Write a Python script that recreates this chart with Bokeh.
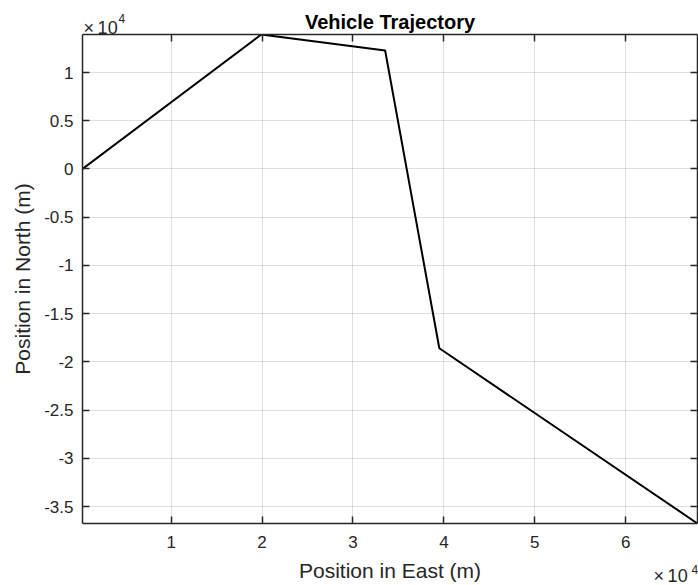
from bokeh.plotting import figure
from bokeh.models import Range1d, LinearAxis, FixedTicker, CustomJSTickFormatter, Label
from bokeh.embed import file_html
from bokeh.resources import INLINE

# ---- data (metres) ----
east = [250, 19910, 33540, 39500, 67900]
north = [0, 13940, 12280, -18580, -36750]
x_ticks = [10000, 20000, 30000, 40000, 50000, 60000]
y_ticks = [-35000, -30000, -25000, -20000, -15000, -10000, -5000, 0, 5000, 10000]
title_text = "Vehicle Trajectory"
x_label = "Position in East (m)"
y_label = "Position in North (m)"
exp_base = "\u00d7\u200910"
exp_power = "4"

FONT = "Liberation Sans"
DARK = "#262626"

p = figure(
    frame_width=615, frame_height=489,
    min_border_left=82, min_border_right=1, min_border_top=34, min_border_bottom=62,
    x_range=Range1d(min(east), max(east)),
    y_range=Range1d(min(north), max(north)),
    output_backend="svg", toolbar_location=None,
    x_axis_location=None, y_axis_location=None,
    background_fill_color="white", border_fill_color=None,
    outline_line_color=None,
)

p.title.text = title_text
p.title.text_font = FONT
p.title.text_font_size = "20px"
p.title.text_font_style = "bold"
p.title.text_color = "#000000"
p.title.align = "center"
p.title.standoff = 3

scale_fmt = CustomJSTickFormatter(code="return (tick/10000).toString();")
blank_fmt = CustomJSTickFormatter(code="return '';")


def style_axis(ax, labels=True):
    ax.axis_line_color = DARK
    ax.axis_line_width = 1.5
    ax.major_tick_line_color = DARK
    ax.major_tick_line_width = 1.5
    ax.major_tick_in = 7
    ax.major_tick_out = 0
    ax.minor_tick_line_color = None
    if labels:
        ax.major_label_text_font = FONT
        ax.major_label_text_font_size = "17px"
        ax.major_label_text_color = DARK
        ax.axis_label_text_font = FONT
        ax.axis_label_text_font_size = "21px"
        ax.axis_label_text_font_style = "normal"
        ax.axis_label_text_color = DARK
    else:
        ax.major_label_standoff = 0


xb = LinearAxis(ticker=FixedTicker(ticks=x_ticks), formatter=scale_fmt, axis_label=x_label)
style_axis(xb)
xb.major_label_standoff = 12
xb.axis_label_standoff = 8
p.add_layout(xb, "below")

yl = LinearAxis(ticker=FixedTicker(ticks=y_ticks), formatter=scale_fmt, axis_label=y_label)
style_axis(yl)
yl.major_label_standoff = 9
yl.axis_label_standoff = 7
p.add_layout(yl, "left")

xt = LinearAxis(ticker=FixedTicker(ticks=x_ticks), formatter=blank_fmt)
style_axis(xt, labels=False)
p.add_layout(xt, "above")

yr = LinearAxis(ticker=FixedTicker(ticks=y_ticks), formatter=blank_fmt)
style_axis(yr, labels=False)
p.add_layout(yr, "right")

p.xgrid.ticker = FixedTicker(ticks=x_ticks)
p.ygrid.ticker = FixedTicker(ticks=y_ticks)
for g in (p.xgrid, p.ygrid):
    g.grid_line_color = DARK
    g.grid_line_alpha = 0.15
    g.grid_line_width = 1

p.line(east, north, line_color="black", line_width=2)

# exponent markers (x 10^4); placed in side panels so they are not clipped.
# screen coordinates are relative to each label's own panel (x from left, y up from bottom)
def exp_label(x, y, text, size):
    return Label(x=x, y=y, x_units="screen", y_units="screen", text=text,
                 text_font=FONT, text_font_size=size, text_color=DARK,
                 text_baseline="alphabetic", text_align="left")

p.add_layout(exp_label(571, 29, exp_base, "18px"), "below")
p.add_layout(exp_label(609, 44, exp_power, "12px"), "below")
p.add_layout(exp_label(1, 606, exp_base, "18px"), "below")
p.add_layout(exp_label(36, 624, exp_power, "12px"), "below")

open("out.html", "w").write(file_html(p, INLINE))
